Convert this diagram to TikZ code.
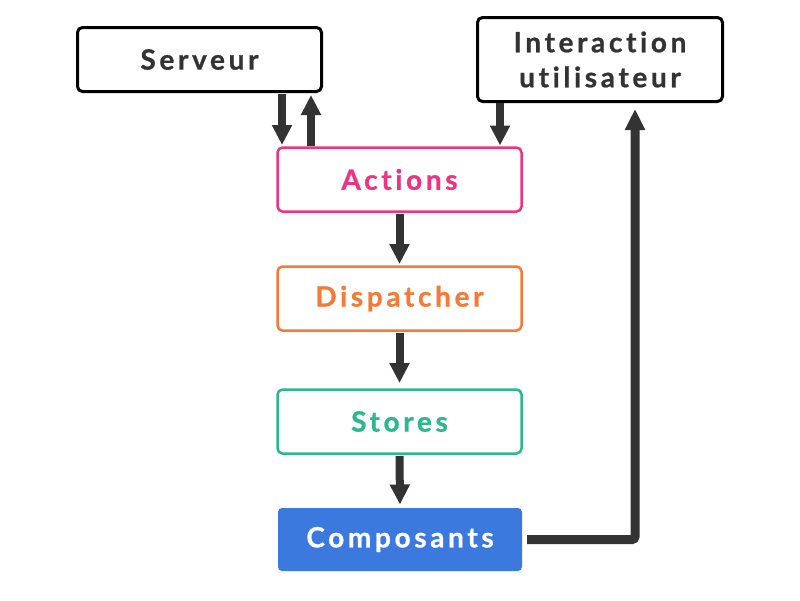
\documentclass[tikz,border=0pt]{standalone}
\usepackage{fontspec}
\setmainfont{Lato}[LetterSpace=13, Ligatures={NoCommon}, BoldFeatures={FakeBold=0.8}]
\usetikzlibrary{arrows.meta}
\definecolor{dk}{HTML}{333333}
\definecolor{pk}{HTML}{EE3383}
\definecolor{org}{HTML}{F57A35}
\definecolor{grn}{HTML}{2BB98A}
\definecolor{blu}{HTML}{3C79DE}
\tikzset{
  box/.style={rounded corners=5pt, inner sep=0pt, outer sep=0pt, minimum width=244pt, minimum height=64pt,
    font=\fontsize{28}{35}\selectfont\bfseries, align=center},
  blackbox/.style={box, draw=black, line width=3pt, text=dk},
  flowbox/.style={box, draw=#1, line width=2.5pt, text=#1},
  arr/.style={draw=dk, line width=8pt, -{Triangle[width=19pt,length=20pt]}},
  link/.style={draw=dk, line width=9pt, rounded corners=3pt, -{Triangle[width=19pt,length=21pt]}}
}
\begin{document}
\begin{tikzpicture}[x=1pt,y=-1pt]
\useasboundingbox (0,0) rectangle (800,600);
\fill[white] (0,0) rectangle (800,600);
\node[blackbox] (serveur) at (199.5,59.5) {Serveur};
\node[blackbox, minimum height=84pt, minimum width=245pt] (inter) at (600,59.5) {Interaction\\utilisateur};
\node[flowbox=pk] (actions) at (399.5,179.5) {Actions};
\node[flowbox=org] (disp) at (399.5,298.5) {Dispatcher};
\node[flowbox=grn] (stores) at (399.5,421.5) {Stores};
\node[box, fill=blu, text=white, minimum height=63pt, rounded corners=4pt] (comp) at (400,539.5) {Composants};
\coordinate (xa) at (282,0);
\coordinate (xb) at (311,0);
\coordinate (xc) at (500,0);
\coordinate (xd) at (635,0);
\draw[arr, shorten <=2.5pt, shorten >=2.5pt] (serveur.south -| xa) -- (actions.north -| xa);
\draw[arr, shorten <=2pt, shorten >=3.5pt] (actions.north -| xb) -- (serveur.south -| xb);
\draw[arr, shorten <=1.5pt, shorten >=2pt] (inter.south -| xc) -- (actions.north -| xc);
\draw[arr, shorten <=2.5pt, shorten >=2.5pt] (actions.south) -- (disp.north);
\draw[arr, shorten <=2.5pt, shorten >=6.5pt] (disp.south) -- (stores.north);
\draw[arr, shorten <=2.5pt, shorten >=3.5pt] (stores.south) -- (comp.north);
\draw[link, shorten <=5pt, shorten >=7.5pt] (comp.east) -- (comp.east -| xd) -- (inter.south -| xd);
\end{tikzpicture}
\end{document}
